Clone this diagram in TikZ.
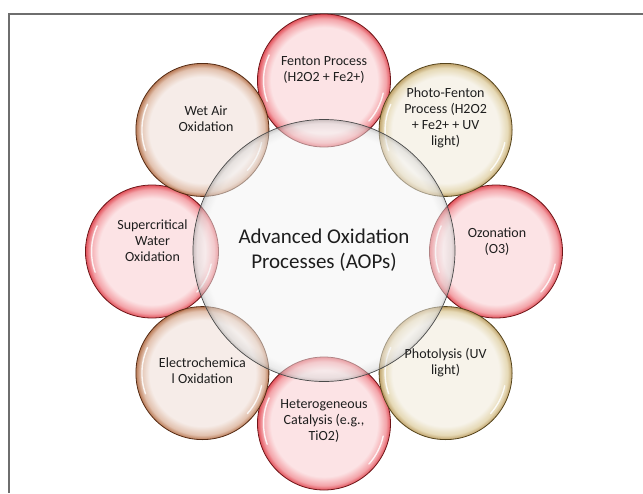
\documentclass[tikz,border=0pt]{standalone}
\usepackage{fontspec}
\setmainfont{Carlito}
\usepackage{tikz}
\usetikzlibrary{calc}

\definecolor{redin}{HTML}{FCE0E2}
\definecolor{redmid}{HTML}{F29AA0}
\definecolor{redout}{HTML}{DE3E48}
\definecolor{redline}{HTML}{6E1518}
\definecolor{brownin}{HTML}{F5EAE5}
\definecolor{brownmid}{HTML}{DFBBA6}
\definecolor{brownout}{HTML}{B26C44}
\definecolor{brownline}{HTML}{552B14}
\definecolor{tanin}{HTML}{F6F2E8}
\definecolor{tanmid}{HTML}{E3D5AE}
\definecolor{tanout}{HTML}{B8985A}
\definecolor{tanline}{HTML}{55441C}
\definecolor{hubin}{HTML}{F3F3F3}
\definecolor{hubmid}{HTML}{D8D8D8}
\definecolor{hubout}{HTML}{9C9C9C}
\definecolor{hubline}{HTML}{4A4A4A}
\definecolor{framecol}{HTML}{6E6E6E}
\definecolor{inkcol}{HTML}{1E1E1E}

\pgfdeclareradialshading{redrim}{\pgfpoint{0bp}{0bp}}{color(0bp)=(redin); color(20bp)=(redin); color(23.3bp)=(redmid); color(25bp)=(redout); color(50bp)=(redout)}
\pgfdeclareradialshading{brownrim}{\pgfpoint{0bp}{0bp}}{color(0bp)=(brownin); color(20bp)=(brownin); color(23.3bp)=(brownmid); color(25bp)=(brownout); color(50bp)=(brownout)}
\pgfdeclareradialshading{tanrim}{\pgfpoint{0bp}{0bp}}{color(0bp)=(tanin); color(20bp)=(tanin); color(23.3bp)=(tanmid); color(25bp)=(tanout); color(50bp)=(tanout)}
\pgfdeclareradialshading{hubrim}{\pgfpoint{0bp}{0bp}}{color(0bp)=(hubin); color(22.8bp)=(hubin); color(24.3bp)=(hubmid); color(25bp)=(hubout); color(50bp)=(hubout)}

% white glint inside a ball, round its centre
\def\glint(#1){\draw[white, line width=1.4pt, opacity=0.85, line cap=round] ($(#1)+(160:60.5)$) arc (160:205:60.5);
	\draw[white, line width=1.4pt, opacity=0.85, line cap=round] ($(#1)+(12:60.5)$) arc (12:42:60.5);}

\tikzset{
  ball/.style={circle, minimum size=133pt, inner sep=0pt, shade, line width=0.8pt, fill opacity=0.9},
  redball/.style={ball, shading=redrim, draw=redline},
  brownball/.style={ball, shading=brownrim, draw=brownline},
  tanball/.style={ball, shading=tanrim, draw=tanline},
  hub/.style={circle, minimum size=262pt, inner sep=0pt, shade, shading=hubrim, draw=hubline,
    line width=0.7pt, fill opacity=0.5, text opacity=1, text=inkcol, align=center,
    font=\fontsize{21}{25}\selectfont},
  balltext/.style={align=center, inner sep=0pt, text=inkcol, font=\fontsize{14}{16}\selectfont}
}

\begin{document}
\begin{tikzpicture}[x=1pt, y=-1pt]
			%%%%% START %%%%%
			\useasboundingbox (0, 0) rectangle (643, 493);

			\draw[framecol, line width=1.3pt] (643, 14) -- (9, 14) -- (9, 493);

			% red balls
			\node[redball] (fenton) at (324, 80.5) {};
			\node[redball] (ozone) at (496, 251.5) {};
			\node[redball] (hetero) at (324, 423.5) {};
			\node[redball] (scwo) at (152, 251.5) {};
			\glint(fenton) \glint(ozone) \glint(hetero) \glint(scwo)

			% brown and tan balls
			\node[brownball] (wetair) at (202.4, 129.9) {};
			\node[tanball] (photofenton) at (445.6, 129.9) {};
			\node[tanball] (photolysis) at (445.6, 373.1) {};
			\node[brownball] (electro) at (202.4, 373.1) {};
			\glint(wetair) \glint(photofenton) \glint(photolysis) \glint(electro)

			% hub on top
			\node[hub] (aop) at (324, 250.5) {Advanced Oxidation\\Processes (AOPs)};

			% texts
			\node[balltext] (fentontxt) at (324, 70) {Fenton Process\\(H2O2 + Fe2+)};
			\node[balltext] (photofentontxt) at (445.6, 118) {Photo-Fenton\\Process (H2O2\\+ Fe2+ + UV\\light)};
			\node[balltext] (ozonetxt) at (497, 241.5) {Ozonation\\(O3)};
			\node[balltext] (photolysistxt) at (445.6, 363) {Photolysis (UV\\light)};
			\node[balltext] (heterotxt) at (324, 421) {Heterogeneous\\Catalysis (e.g.,\\TiO2)};
			\node[balltext] (electrotxt) at (202.4, 370.5) {Electrochemica\\l Oxidation};
			\node[balltext] (scwotxt) at (152.5, 241) {Supercritical\\Water\\Oxidation};
			\node[balltext] (wetairtxt) at (206, 119) {Wet Air\\Oxidation};
			%%%%% END %%%%%
\end{tikzpicture}
\end{document}
